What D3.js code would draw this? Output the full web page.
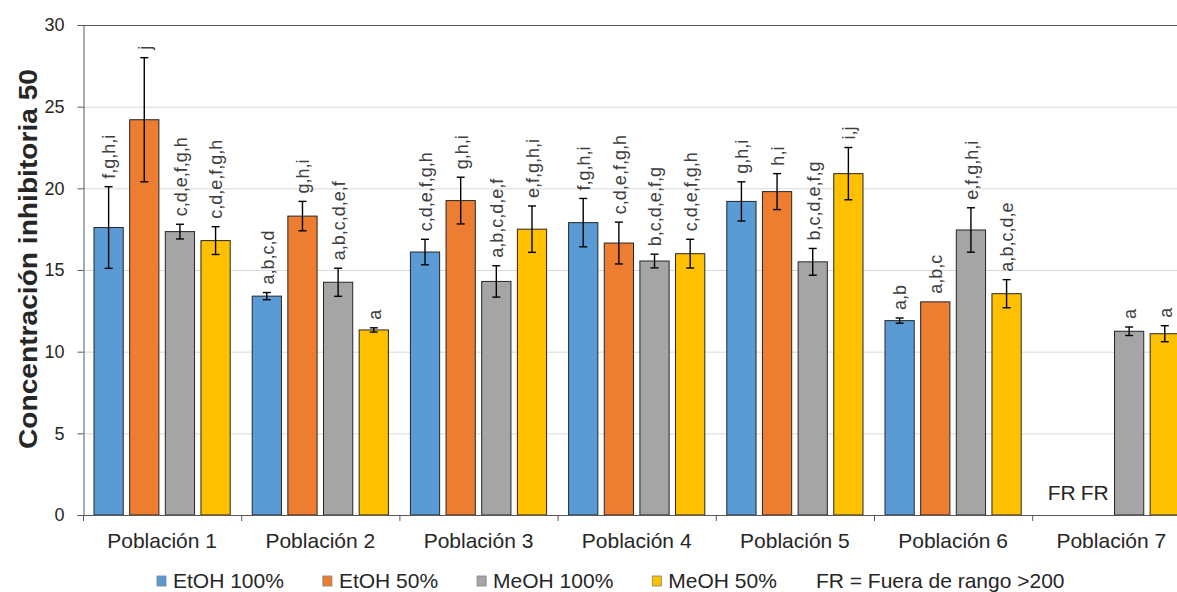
<!DOCTYPE html>
<html>
<head>
<meta charset="utf-8">
<script src="https://cdn.jsdelivr.net/npm/d3@7"></script>
<style>
  html, body { margin: 0; padding: 0; background: #fff; }
  svg { display: block; font-family: "Liberation Sans", Arial, Helvetica, sans-serif; }
</style>
</head>
<body>
<svg id="chart" width="1177" height="592"></svg>
<script>
// Populations on the x axis
const categories = ["Población 1", "Población 2", "Población 3", "Población 4", "Población 5", "Población 6", "Población 7"];
// Extraction solvents (one bar per solvent in each population)
const seriesNames = ["EtOH 100%", "EtOH 50%", "MeOH 100%", "MeOH 50%"];
const seriesColors = ["#5B9BD5", "#ED7D31", "#A5A5A5", "#FFC000"];

// IC50 means (null = out of range, "FR")
const etoh100 = [17.6, 13.4, 16.1, 17.9, 19.2, 11.9, null];
const etoh50 = [24.2, 18.3, 19.25, 16.65, 19.8, 13.05, null];
const meoh100 = [17.35, 14.25, 14.3, 15.55, 15.5, 17.45, 11.25];
const meoh50 = [16.8, 11.33, 17.5, 16.0, 20.9, 13.55, 11.1];

// Standard deviations for the error bars
const etoh100Err = [2.5, 0.22, 0.78, 1.48, 1.2, 0.16, null];
const etoh50Err = [3.8, 0.9, 1.43, 1.28, 1.1, 0, null];
const meoh100Err = [0.45, 0.86, 0.96, 0.42, 0.82, 1.36, 0.26];
const meoh50Err = [0.85, 0.13, 1.42, 0.88, 1.6, 0.86, 0.49];

// Significance letters above each bar
const etoh100Letters = ["f,g,h,i", "a,b,c,d", "c,d,e,f,g,h", "f,g,h,i", "g,h,i", "a,b", "FR"];
const etoh50Letters = ["j", "g,h,i", "g,h,i", "c,d,e,f,g,h", "h,i", "a,b,c", "FR"];
const meoh100Letters = ["c,d,e,f,g,h", "a,b,c,d,e,f", "a,b,c,d,e,f", "b,c,d,e,f,g", "b,c,d,e,f,g", "e,f,g,h,i", "a"];
const meoh50Letters = ["c,d,e,f,g,h", "a", "e,f,g,h,i", "c,d,e,f,g,h", "i,j", "a,b,c,d,e", "a"];

// Y axis ticks
const yTicks = [0, 5, 10, 15, 20, 25, 30];
const yTitle = "Concentración inhibitoria 50";
const fnNote = "FR = Fuera de rango >200";

const seriesValues = [etoh100, etoh50, meoh100, meoh50];
const seriesErrors = [etoh100Err, etoh50Err, meoh100Err, meoh50Err];
const seriesLetters = [etoh100Letters, etoh50Letters, meoh100Letters, meoh50Letters];

const rows = [];
categories.forEach((cat, ci) => {
  seriesNames.forEach((s, si) => {
    rows.push({
      cat, series: s, si,
      value: seriesValues[si][ci],
      err: seriesErrors[si][ci],
      letters: seriesLetters[si][ci]
    });
  });
});

const svg = d3.select("#chart");
const margin = { left: 83, top: 25, bottom: 77 };
const H = 592;
const plotBottom = H - margin.bottom;   // 515
const groupStep = 158.2;
const plotRight = margin.left + groupStep * categories.length;

const x0 = d3.scaleBand().domain(categories).range([margin.left, plotRight]).padding(0);
const x1 = d3.scaleBand().domain(seriesNames).range([11, groupStep - 11]).paddingInner(0.18).paddingOuter(0);
const y = d3.scaleLinear().domain([0, 30]).range([plotBottom, margin.top]);

const axisColor = "#595959";
const textColor = "#404040";

// Gridlines
svg.append("g")
  .selectAll("line")
  .data(yTicks.filter(t => t > 0 && t < 30))
  .join("line")
  .attr("x1", margin.left).attr("x2", plotRight)
  .attr("y1", d => y(d) + 0.5).attr("y2", d => y(d) + 0.5)
  .attr("stroke", "#d9d9d9").attr("stroke-width", 1);

// Top border line
svg.append("line")
  .attr("x1", margin.left).attr("x2", plotRight)
  .attr("y1", y(30) + 0.5).attr("y2", y(30) + 0.5)
  .attr("stroke", axisColor).attr("stroke-width", 1);

// Bars
const barsG = svg.append("g");
const drawn = rows.filter(r => r.value != null);
barsG.selectAll("rect")
  .data(drawn)
  .join("rect")
  .attr("x", d => x0(d.cat) + x1(d.series))
  .attr("y", d => y(d.value))
  .attr("width", x1.bandwidth())
  .attr("height", d => y(0) - y(d.value))
  .attr("fill", d => seriesColors[d.si])
  .attr("stroke", "#262626")
  .attr("stroke-width", 1);

// Error bars
const errG = svg.append("g").attr("stroke", "#000").attr("stroke-width", 1.4);
drawn.filter(d => d.err > 0).forEach(d => {
  const cx = x0(d.cat) + x1(d.series) + x1.bandwidth() / 2;
  const yt = y(d.value + d.err), yb = y(d.value - d.err);
  errG.append("line").attr("x1", cx).attr("x2", cx).attr("y1", yt).attr("y2", yb);
  errG.append("line").attr("x1", cx - 4).attr("x2", cx + 4).attr("y1", yt).attr("y2", yt);
  errG.append("line").attr("x1", cx - 4).attr("x2", cx + 4).attr("y1", yb).attr("y2", yb);
});

// Significance letters (rotated)
svg.append("g")
  .selectAll("text")
  .data(drawn)
  .join("text")
  .attr("transform", d => {
    const cx = x0(d.cat) + x1(d.series) + x1.bandwidth() / 2;
    const top = y(d.value + (d.err || 0)) - 8;
    return `translate(${cx},${top}) rotate(-90)`;
  })
  .attr("dy", "0.38em")
  .attr("text-anchor", "start")
  .attr("font-size", 18)
  .attr("fill", textColor)
  .text(d => d.letters);

// Out-of-range markers
const frRows = rows.filter(r => r.value == null);
const frG = svg.append("g");
if (frRows.length) {
  const cat = frRows[0].cat;
  const gapX = (x0(cat) + x1(seriesNames[0]) + x1.bandwidth() + x0(cat) + x1(seriesNames[1])) / 2 + 2;
  frG.append("text")
    .attr("x", gapX - 2).attr("y", plotBottom - 15)
    .attr("text-anchor", "end").attr("font-size", 21).attr("fill", "#262626")
    .text(frRows[0].letters);
  frG.append("text")
    .attr("x", gapX + 3).attr("y", plotBottom - 15)
    .attr("text-anchor", "start").attr("font-size", 21).attr("fill", "#262626")
    .text(frRows[1].letters);
}

// Y axis
const yAxis = d3.axisLeft(y).tickValues(yTicks).tickSize(6).tickPadding(13);
const yg = svg.append("g").attr("transform", `translate(${margin.left + 0.5},0)`).call(yAxis);
yg.select(".domain").attr("stroke", axisColor);
yg.selectAll(".tick line").attr("stroke", axisColor);
yg.selectAll(".tick text").attr("font-size", 18).attr("fill", "#262626")
  .attr("font-family", "'Liberation Sans', Arial, sans-serif");

// X axis with ticks on category boundaries
svg.append("line")
  .attr("x1", margin.left).attr("x2", plotRight)
  .attr("y1", plotBottom + 0.5).attr("y2", plotBottom + 0.5)
  .attr("stroke", axisColor).attr("stroke-width", 1);
svg.append("g")
  .selectAll("line")
  .data(categories)
  .join("line")
  .attr("x1", d => x0(d) + 0.5).attr("x2", d => x0(d) + 0.5)
  .attr("y1", plotBottom).attr("y2", plotBottom + 6)
  .attr("stroke", axisColor);
svg.append("g")
  .selectAll("text")
  .data(categories)
  .join("text")
  .attr("x", d => x0(d) + x0.bandwidth() / 2)
  .attr("y", 548)
  .attr("text-anchor", "middle")
  .attr("font-size", 21)
  .attr("fill", "#262626")
  .text(d => d);

// Y axis title
svg.append("text")
  .attr("transform", "translate(37,259) rotate(-90)")
  .attr("text-anchor", "middle")
  .attr("font-size", 25)
  .attr("font-weight", "bold")
  .attr("textLength", 380)
  .attr("lengthAdjust", "spacingAndGlyphs")
  .attr("fill", "#262626")
  .text(yTitle);

// Legend
const legend = svg.append("g").attr("transform", "translate(157,588)");
let lx = 0;
seriesNames.forEach((name, i) => {
  legend.append("rect")
    .attr("x", lx).attr("y", -12).attr("width", 9).attr("height", 10)
    .attr("fill", seriesColors[i]).attr("stroke", "#7f7f7f").attr("stroke-width", 0.8);
  const t = legend.append("text")
    .attr("x", lx + 16).attr("y", 0)
    .attr("font-size", 21).attr("fill", "#262626")
    .text(name);
  lx += 16 + t.node().getComputedTextLength() + 39;
});
legend.append("text")
  .attr("x", lx).attr("y", 0)
  .attr("font-size", 21).attr("fill", "#262626")
  .text(fnNote);
</script>
</body>
</html>
